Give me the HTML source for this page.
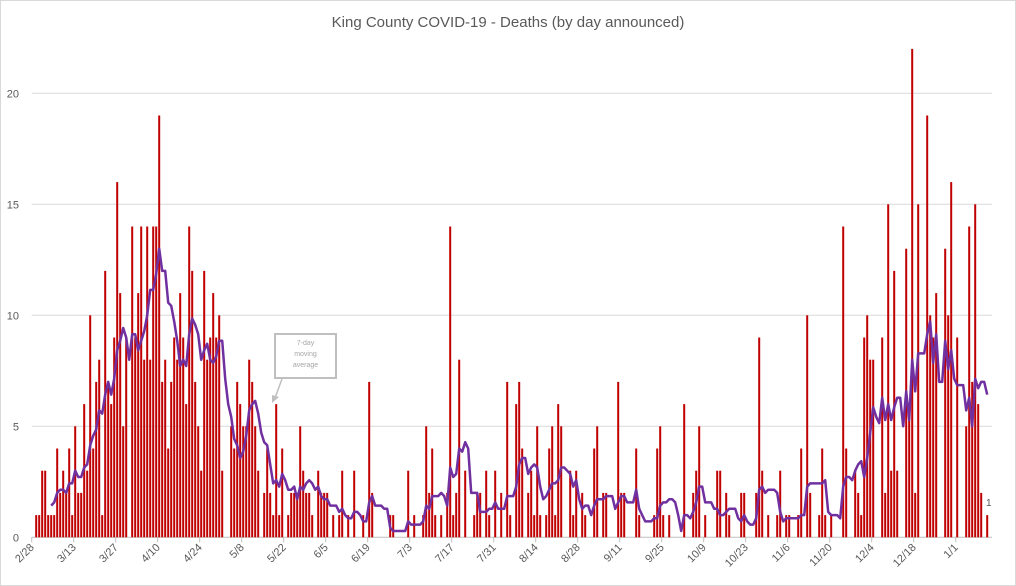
<!DOCTYPE html>
<html><head><meta charset="utf-8"><style>
body{margin:0;background:#fff}
svg{display:block;font-family:"Liberation Sans",sans-serif}
</style></head><body>
<svg id="c" width="1016" height="586" viewBox="0 0 1016 586" xmlns="http://www.w3.org/2000/svg">
<rect x="0.5" y="0.5" width="1015" height="585" fill="#fff" stroke="#d9d9d9"/>
<text x="508" y="27" text-anchor="middle" font-size="15" fill="#595959">King County COVID-19 - Deaths (by day announced)</text>
<g id="grid"></g><g id="bars"></g><g id="line"></g><g id="ax"></g>
<rect x="275" y="334" width="61" height="44" fill="#fff" stroke="#bfbfbf" stroke-width="2"/>
<text font-size="7" fill="#a6a6a6" text-anchor="middle"><tspan x="305.5" y="345">7-day</tspan><tspan x="305.5" y="356">moving</tspan><tspan x="305.5" y="367">average</tspan></text>
<line x1="282" y1="379" x2="275" y2="398" stroke="#bfbfbf" stroke-width="1.5"/>
<polygon points="272,403 272,395 279,397" fill="#bfbfbf"/>
<text x="986" y="506" font-size="10" fill="#595959">1</text>
</svg>
<script>
var v={1:1,2:1,3:3,4:3,5:1,6:1,7:1,8:4,9:2,10:3,11:2,12:4,13:1,14:5,15:2,16:2,17:6,18:3,19:10,20:4,21:7,22:8,23:1,24:12,25:7,26:6,27:9,28:16,29:11,30:5,31:9,33:14,34:9,35:11,36:14,37:8,38:14,39:8,40:14,41:14,42:19,43:7,44:8,45:4,46:7,47:9,48:8,49:11,50:9,51:6,52:14,53:12,54:7,55:5,56:3,57:12,58:8,59:9,60:11,61:9,62:10,63:3,66:5,67:4,68:7,69:6,70:5,71:5,72:8,73:7,74:5,75:3,77:2,78:4,79:2,80:1,81:6,82:1,83:4,85:1,86:2,87:2,88:2,89:5,90:3,91:2,92:2,93:1,95:3,96:2,97:2,98:2,100:1,
102:1,103:3,105:1,107:3,110:1,112:7,113:2,119:1,120:1,125:3,127:1,130:1,131:5,132:2,133:4,134:1,136:1,138:2,139:14,140:1,141:2,142:8,144:3,147:1,148:2,149:2,151:3,152:1,154:3,156:2,158:7,159:1,161:6,162:7,163:4,165:2,166:3,167:1,168:5,169:1,171:1,172:4,173:5,174:1,175:6,176:5,179:3,180:1,181:3,183:2,184:1,187:4,188:5,190:2,191:2,195:7,196:2,197:2,201:4,202:1,207:1,208:4,209:5,210:1,212:1,
217:6,220:2,221:3,222:5,224:1,228:3,229:3,231:2,232:1,236:2,237:2,241:2,242:9,243:3,245:1,248:1,249:3,251:1,252:1,255:1,256:4,258:10,259:2,262:1,263:4,264:1,266:1,270:14,271:4,274:3,275:2,276:1,277:9,278:10,279:8,280:8,283:9,284:2,285:15,286:3,287:12,288:3,291:13,292:6,293:22,294:2,295:15,298:19,299:10,300:9,301:11,304:13,305:10,306:16,308:9,311:5,312:14,313:7,314:15,315:6,316:2,318:1};
var NS="http://www.w3.org/2000/svg",X0=31.7,DX=3.0,Y0=537.3,U=22.2,N=320;
function el(p,t,a,txt){var e=document.createElementNS(NS,t);for(var k in a)e.setAttribute(k,a[k]);if(txt!=null)e.textContent=txt;document.getElementById(p).appendChild(e);return e;}
for(var g=0;g<=20;g+=5){var y=Y0-g*U;el('grid','line',{x1:X0,x2:992,y1:y,y2:y,stroke:g?'#d9d9d9':'#bfbfbf','stroke-width':1});
el('ax','text',{x:19,y:y+4,'text-anchor':'end','font-size':11,fill:'#595959'},g);}
for(var i=0;i<N;i++){var d=v[i]||0;if(d)el('bars','rect',{x:X0+(i+0.5)*DX-1,y:Y0-d*U,width:2,height:d*U,fill:'#C00000'});}
var pts=[];for(var i=6;i<N-1;i++){var s=0;for(var j=i-6;j<=i;j++)s+=v[j]||0;pts.push((X0+(i+0.5)*DX).toFixed(1)+','+(Y0-s/7*U).toFixed(1));}
el('line','polyline',{points:pts.join(' '),fill:'none',stroke:'#7030A0','stroke-width':2.5,'stroke-linejoin':'round'});
var labs=['2/28','3/13','3/27','4/10','4/24','5/8','5/22','6/5','6/19','7/3','7/17','7/31','8/14','8/28','9/11','9/25','10/9','10/23','11/6','11/20','12/4','12/18','1/1'];
for(var k=0;k<labs.length;k++){var x=X0+k*14*DX;el('ax','line',{x1:x,x2:x,y1:Y0,y2:Y0+5,stroke:'#bfbfbf'});
el('ax','text',{x:x+3,y:548,'text-anchor':'end','font-size':11,fill:'#595959',transform:'rotate(-45 '+(x+3)+' 548)'},labs[k]);}
</script>
</body></html>
